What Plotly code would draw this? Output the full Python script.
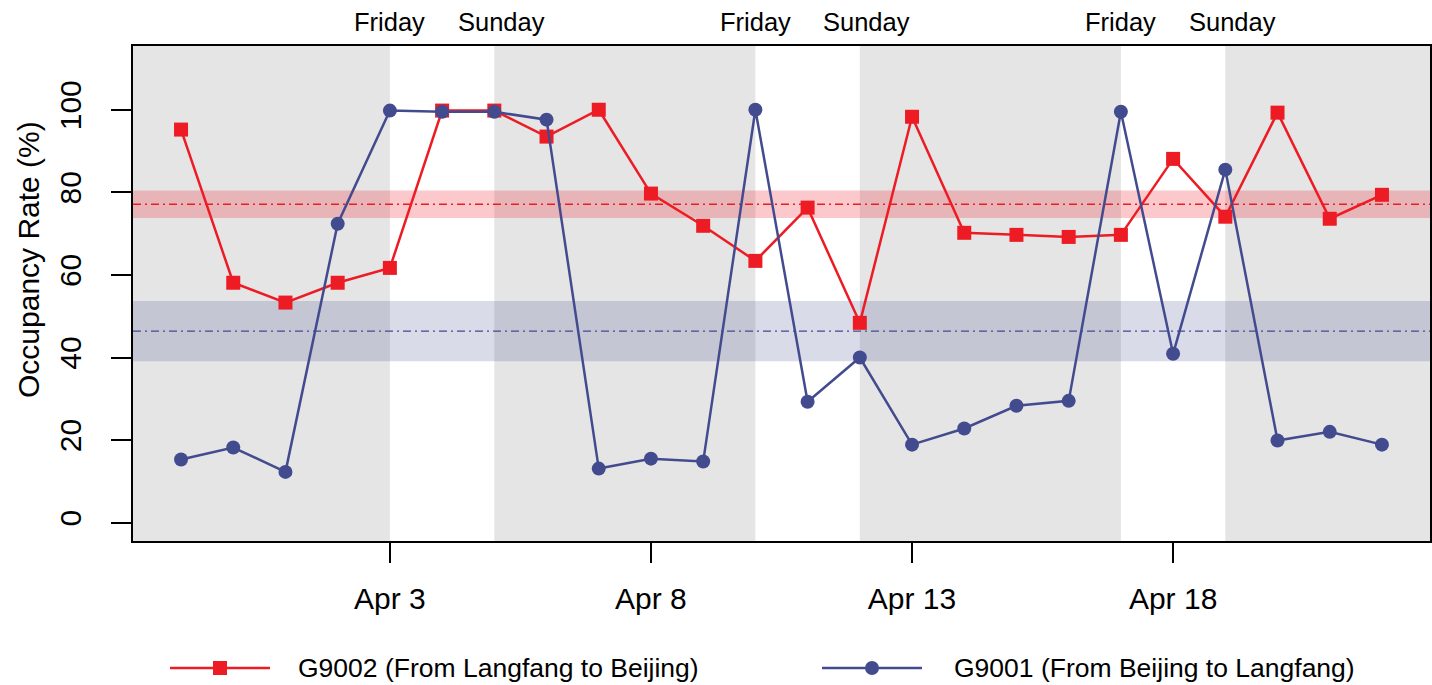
import numpy as np
import pandas as pd
import plotly.graph_objects as go

# ---------------- data ----------------
dates = pd.date_range("2020-03-30", "2020-04-22", freq="D")
g9002 = [95.2, 58.1, 53.3, 58.1, 61.7, 99.8, 99.8, 93.5, 100.0, 79.7, 71.9, 63.4,
         76.3, 48.4, 98.3, 70.2, 69.7, 69.2, 69.7, 88.1, 74.1, 99.3, 73.6, 79.4]
g9001 = [15.3, 18.2, 12.3, 72.4, 99.8, 99.5, 99.5, 97.6, 13.1, 15.5, 14.8, 100.0,
         29.3, 40.0, 18.9, 22.8, 28.3, 29.5, 99.5, 40.9, 85.5, 19.9, 22.0, 18.9]
fridays = ["2020-04-03", "2020-04-10", "2020-04-17"]
x_tick_dates = ["2020-04-03", "2020-04-08", "2020-04-13", "2020-04-18"]
x_tick_labels = ["Apr 3", "Apr 8", "Apr 13", "Apr 18"]
y_ticks = [0, 20, 40, 60, 80, 100]
series_names = ["G9002 (From Langfang to Beijing)", "G9001 (From Beijing to Langfang)"]

RED = "#ED1C24"
BLUE = "#434B8F"
GRAY = "#E5E5E5"
FONT = "Liberation Sans, Arial, Helvetica, sans-serif"

# R-style 4% axis extension
span = dates[-1] - dates[0]
xmin = dates[0] - 0.04 * span
xmax = dates[-1] + 0.04 * span
ylo, yhi = 0, 111
yr = [ylo - 0.04 * (yhi - ylo), yhi + 0.04 * (yhi - ylo)]

fri = pd.to_datetime(fridays)
sun = fri + pd.Timedelta(days=2)

fig = go.Figure()
shapes = []
# weekday (gray) segments
edges = [xmin] + [v for pair in zip(fri, sun) for v in pair] + [xmax]
for a, b in zip(edges[0::2], edges[1::2]):
    shapes.append(dict(type="rect", xref="x", yref="y domain", x0=a, x1=b, y0=0, y1=1,
                       fillcolor=GRAY, line=dict(width=0), layer="below"))

# mean +/- SE bands and mean lines
for vals, col, rgba in [(g9002, RED, "rgba(237,28,36,0.24)"), (g9001, BLUE, "rgba(67,75,143,0.2)")]:
    arr = np.array(vals)
    m = arr.mean()
    se = arr.std(ddof=1) / np.sqrt(len(arr))
    shapes.append(dict(type="rect", xref="x domain", yref="y", x0=0, x1=1, y0=m - se, y1=m + se,
                       fillcolor=rgba, line=dict(width=0), layer="below"))
    shapes.append(dict(type="line", xref="x domain", yref="y", x0=0, x1=1, y0=m, y1=m,
                       line=dict(color=col, width=1.4, dash="8px,4px,2px,4px"), layer="below"))

fig.add_trace(go.Scatter(x=dates, y=g9002, mode="lines+markers", name=series_names[0],
                         line=dict(color=RED, width=2.5),
                         marker=dict(symbol="square", size=14, color=RED), showlegend=False))
fig.add_trace(go.Scatter(x=dates, y=g9001, mode="lines+markers", name=series_names[1],
                         line=dict(color=BLUE, width=2.5),
                         marker=dict(symbol="circle", size=14, color=BLUE), showlegend=False))

# manual legend on an auxiliary subplot (pixel-like coordinates)
leg_items = [(RED, "square", 170, 270, 296, series_names[0]),
             (BLUE, "circle", 822, 922, 952, series_names[1])]
annotations = []
for col, sym, x0, x1, xt, name in leg_items:
    fig.add_trace(go.Scatter(x=[x0, x1], y=[0.266, 0.266], mode="lines", line=dict(color=col, width=2.5),
                             xaxis="x2", yaxis="y2", showlegend=False, hoverinfo="skip"))
    fig.add_trace(go.Scatter(x=[(x0 + x1) / 2], y=[0.266], mode="markers",
                             marker=dict(symbol=sym, size=14, color=col),
                             xaxis="x2", yaxis="y2", showlegend=False, hoverinfo="skip"))
    annotations.append(dict(xref="x2", yref="y2", x=xt, y=0.266, text=name, showarrow=False,
                            xanchor="left", yanchor="middle", font=dict(size=26.5, color="black", family=FONT)))

# Friday / Sunday labels
for d in fri:
    annotations.append(dict(xref="x", yref="y domain", x=d, y=1, yanchor="bottom", yshift=8,
                            text="Friday", showarrow=False, font=dict(size=25.5, color="black", family=FONT)))
for d in sun:
    annotations.append(dict(xref="x", yref="y domain", x=d, y=1, yanchor="bottom", yshift=8, xshift=7,
                            text="Sunday", showarrow=False, font=dict(size=25.5, color="black", family=FONT)))

# y-axis title
annotations.append(dict(xref="paper", yref="y domain", x=0, xshift=-104, y=0.5677, xanchor="center",
                        yanchor="middle", textangle=-90, text="Occupancy Rate (%)", showarrow=False,
                        font=dict(size=30, color="black", family=FONT)))

H = 685
top, plot_bottom = 46, 541
area = H - top
main_bottom = (H - plot_bottom) / area

fig.update_layout(
    width=1432, height=H,
    margin=dict(l=133, r=2, t=top, b=0, autoexpand=False),
    paper_bgcolor="white", plot_bgcolor="white",
    font=dict(family=FONT, color="black"),
    shapes=shapes, annotations=annotations,
    xaxis=dict(type="date", range=[xmin, xmax], tickvals=pd.to_datetime(x_tick_dates),
               ticktext=x_tick_labels, ticks="outside", ticklen=20, tickwidth=2, tickcolor="black",
               showline=True, linecolor="black", linewidth=2, mirror=True, showgrid=False,
               zeroline=False, tickfont=dict(size=30, color="black", family=FONT),
               ticklabelstandoff=10, automargin=False),
    yaxis=dict(range=yr, domain=[main_bottom, 1], tickvals=y_ticks, ticks="outside", ticklen=20,
               tickwidth=2, tickcolor="black", tickangle=-90,
               showline=True, linecolor="black", linewidth=2, mirror=True, showgrid=False,
               zeroline=False, tickfont=dict(size=30, color="black", family=FONT),
               ticklabelstandoff=18, automargin=False),
    xaxis2=dict(domain=[0, 1], range=[133, 1430], anchor="y2", visible=False, fixedrange=True),
    yaxis2=dict(domain=[0, 0.1], range=[0, 1], anchor="x2", visible=False, fixedrange=True),
)

fig.write_html("out.html", config={"displayModeBar": False},
               post_script="document.body.style.margin='0';document.body.style.overflow='hidden';")
